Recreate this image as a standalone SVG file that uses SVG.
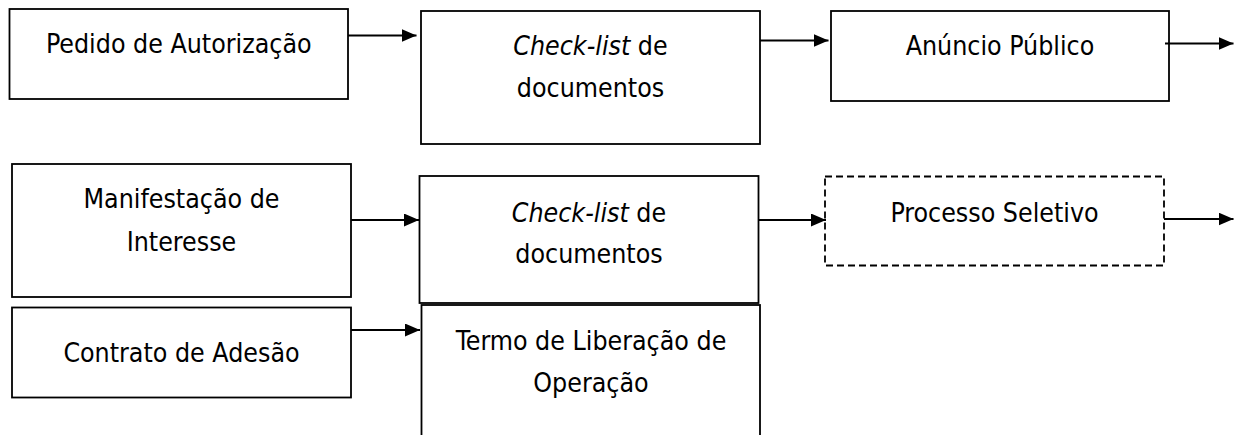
<svg xmlns="http://www.w3.org/2000/svg" width="1237" height="435" viewBox="0 0 1237 435">
<style>
.box{fill:#fff;stroke:#000;stroke-width:1.8}
.dash{fill:#fff;stroke:#000;stroke-width:1.8;stroke-dasharray:7 4}
.lbl{font-family:"DejaVu Sans Condensed","DejaVu Sans",sans-serif;font-stretch:condensed;font-size:26.5px;fill:#000;text-anchor:middle}
.it{font-style:italic}
.con{stroke:#000;stroke-width:2;fill:none;marker-end:url(#ah)}
</style>
<defs>
<marker id="ah" markerUnits="userSpaceOnUse" markerWidth="15" markerHeight="13" refX="15" refY="6.5" orient="auto">
<path d="M0,0 L15,6.5 L0,13 z" fill="#000"/>
</marker>
</defs>
<rect width="1237" height="435" fill="#fff"/>
<g id="n1"><rect class="box" x="9.5" y="9" width="338.5" height="90"/><text class="lbl" x="178.75" y="53">Pedido de Autorização</text></g>
<g id="n2"><rect class="box" x="421" y="11" width="339" height="133"/><text class="lbl" x="590.5" y="55"><tspan class="it">Check-list</tspan> de</text><text class="lbl" x="590.5" y="97">documentos</text></g>
<g id="n3"><rect class="box" x="831" y="11" width="338" height="90"/><text class="lbl" x="1000" y="54.5">Anúncio Público</text></g>
<g id="n4"><rect class="box" x="12" y="164" width="339" height="133"/><text class="lbl" x="181.5" y="208">Manifestação de</text><text class="lbl" x="181.5" y="251">Interesse</text></g>
<g id="n5"><rect class="box" x="12" y="307.5" width="339" height="90"/><text class="lbl" x="181.5" y="361.5">Contrato de Adesão</text></g>
<g id="n6"><rect class="box" x="419.5" y="176" width="339" height="127"/><text class="lbl" x="589" y="221.5"><tspan class="it">Check-list</tspan> de</text><text class="lbl" x="589" y="263">documentos</text></g>
<g id="n7"><rect class="box" x="421.5" y="305" width="338.5" height="140"/><text class="lbl" x="591" y="350">Termo de Liberação de</text><text class="lbl" x="591" y="392">Operação</text></g>
<g id="n8"><rect class="dash" x="825" y="176.5" width="339" height="89"/><text class="lbl" x="994.5" y="221.5">Processo Seletivo</text></g>
<g id="connectors">
<line class="con" x1="348" y1="35.5" x2="416.5" y2="35.5"/>
<line class="con" x1="760" y1="40.5" x2="828.5" y2="40.5"/>
<line class="con" x1="1165" y1="43.5" x2="1233.5" y2="43.5"/>
<line class="con" x1="351" y1="220" x2="419" y2="220"/>
<line class="con" x1="351" y1="330" x2="420" y2="330"/>
<line class="con" x1="758.5" y1="220" x2="826" y2="220"/>
<line class="con" x1="1164" y1="219" x2="1233.5" y2="219"/>
</g>
</svg>
